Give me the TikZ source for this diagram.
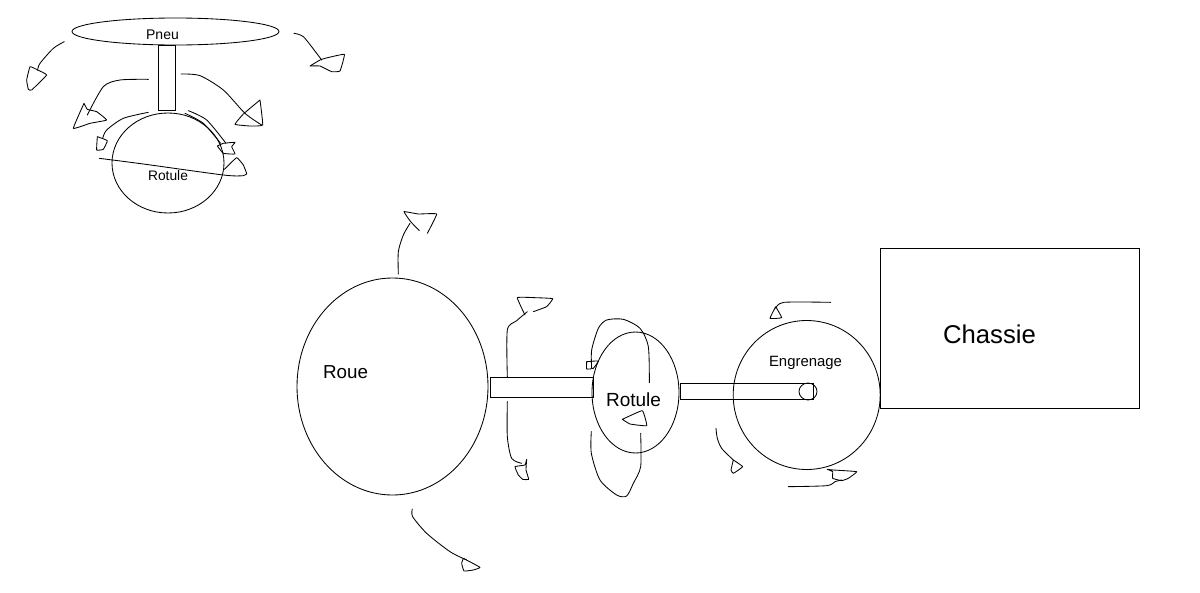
\documentclass[tikz,border=0pt]{standalone}
\usepackage{fontspec}
\setmainfont{Liberation Sans}
\usetikzlibrary{shapes.geometric}
\tikzset{
  ln/.style={line width=0.85pt,black},
  round shape/.style={ellipse,draw,ln,inner sep=0pt,outer sep=0pt},
  bar shape/.style={rectangle,draw,ln,inner sep=0pt,outer sep=0pt},
  lbl/.style={inner sep=0pt,text=black},
  ink/.style={ln,line join=round,line cap=round},
}
\newcommand{\inkline}[1]{\draw[ink] plot[smooth,tension=0.45] coordinates {#1};}
\newcommand{\inkhead}[1]{\draw[ink] plot[smooth,tension=0.18] coordinates {#1};}
\begin{document}
\begin{tikzpicture}[x=1pt,y=-1pt]
\useasboundingbox (0,0) rectangle (1200,592);
% shapes
\node[round shape,minimum width=207pt,minimum height=27pt] (pneu) at (175.5,31.5) {};
\node[bar shape,minimum width=17pt,minimum height=65pt] (tige) at (166.5,77.5) {};
\node[round shape,minimum width=112pt,minimum height=100pt] (rot1) at (168,163) {};
\node[round shape,minimum width=191pt,minimum height=217pt] (roue) at (392.5,386.5) {};
\node[bar shape,minimum width=103pt,minimum height=20pt] (axe1) at (541.5,387) {};
\node[bar shape,minimum width=133pt,minimum height=16pt] (axe2) at (746.5,391.5) {};
\node[round shape,minimum width=18pt,minimum height=17pt] (bout) at (808,391.5) {};
\node[round shape,minimum width=147pt,minimum height=149pt] (eng) at (806.7,395) {};
\node[round shape,minimum width=87pt,minimum height=121pt] (rot2) at (635.5,392.5) {};
\node[bar shape,minimum width=259.5pt,minimum height=160.5pt] (chassis) at (1009.75,328.25) {};
% labels
\node[lbl,font=\fontsize{14}{14}\selectfont] (t1) at (162.5,35) {Pneu};
\node[lbl,font=\fontsize{13.8}{14}\selectfont] (t2) at (168,176) {Rotule};
\node[lbl,font=\fontsize{18.8}{20}\selectfont] (t3) at (345.5,372) {Roue};
\node[lbl,font=\fontsize{19}{20}\selectfont] (t4) at (633.5,400) {Rotule};
\node[lbl,font=\fontsize{14.9}{16}\selectfont] (t5) at (805.5,363) {Engrenage};
\node[lbl,font=\fontsize{25.7}{28}\selectfont] (t6) at (989.5,334) {Chassie};
% hand-drawn strokes, top group
\begin{scope}[xshift=10pt,yshift=-10pt,x=0.33333pt,y=-0.33333pt]
\inkline{(163,95)(130,115)(90,160)(83,180)}
\inkhead{(83,180)(60,170)(50,210)(55,238)(65,240)(110,195)(83,180)}
\inkline{(415,208)(330,210)(280,230)(232,315)}
\inkhead{(222,280)(190,355)(240,340)(290,330)(260,305)(232,298)(222,280)}
\inkline{(513,192)(570,197)(640,240)(705,310)(755,345)}
\inkhead{(750,270)(700,312)(675,343)(720,348)(758,345)(750,270)}
\inkline{(852,70)(880,80)(920,130)(935,150)}
\inkhead{(900,168)(930,168)(965,185)(990,183)(1003,133)(945,145)(930,150)(900,168)}
\inkline{(415,307)(340,325)(290,360)(278,385)}
\inkhead{(262,380)(260,420)(280,418)(292,392)(262,380)}
\inkline{(535,302)(590,330)(648,400)}
\inkline{(525,310)(580,340)(632,400)}
\inkhead{(622,408)(640,430)(675,432)(665,410)(675,397)(640,400)(622,408)}
\inkline{(268,445)(400,462)(640,495)(700,497)(710,490)}
\inkhead{(643,478)(680,443)(700,465)(710,490)}
\end{scope}
% hand-drawn strokes, wheel group
\begin{scope}[xshift=390pt,yshift=-200pt,x=0.33333pt,y=-0.33333pt]
\inkline{(25,222)(25,155)(40,105)(60,70)}
\inkhead{(88,92)(62,65)(42,35)(85,42)(140,42)(112,100)}
\inkline{(352,530)(352,390)(380,362)(412,335)}
\inkhead{(405,345)(382,293)(435,293)(488,296)(470,320)(430,335)}
\inkline{(352,605)(352,710)(365,775)(395,790)}
\inkhead{(410,778)(405,795)(375,800)(385,825)(398,838)(416,838)(408,810)(410,778)}
\inkline{(67,927)(68,950)(110,1000)(180,1055)(230,1080)}
\inkhead{(220,1075)(215,1090)(222,1113)(250,1110)(270,1102)(220,1075)}
\inkline{(778,548)(775,440)(750,385)(700,358)(650,360)(625,385)(605,450)(605,505)}
\inkhead{(590,485)(625,483)(610,505)(590,507)(590,485)}
\inkline{(604,695)(604,760)(630,840)(680,885)(710,888)(730,850)(752,800)(752,700)}
\inkhead{(697,658)(720,672)(770,677)(757,632)(697,658)}
\end{scope}
% hand-drawn strokes, gear group
\begin{scope}[xshift=680pt,yshift=-290pt,x=0.33333pt,y=-0.33333pt]
\inkline{(452,37)(312,37)(287,55)}
\inkhead{(287,50)(270,85)(305,83)(287,50)}
\inkline{(108,415)(112,445)(125,475)(160,510)}
\inkhead{(160,510)(153,540)(160,550)(188,530)(160,510)}
\inkline{(325,590)(440,587)(465,575)(485,570)}
\inkhead{(442,538)(458,545)(458,565)(485,572)(505,565)(530,545)(460,540)(442,538)}
\end{scope}
\end{tikzpicture}
\end{document}
